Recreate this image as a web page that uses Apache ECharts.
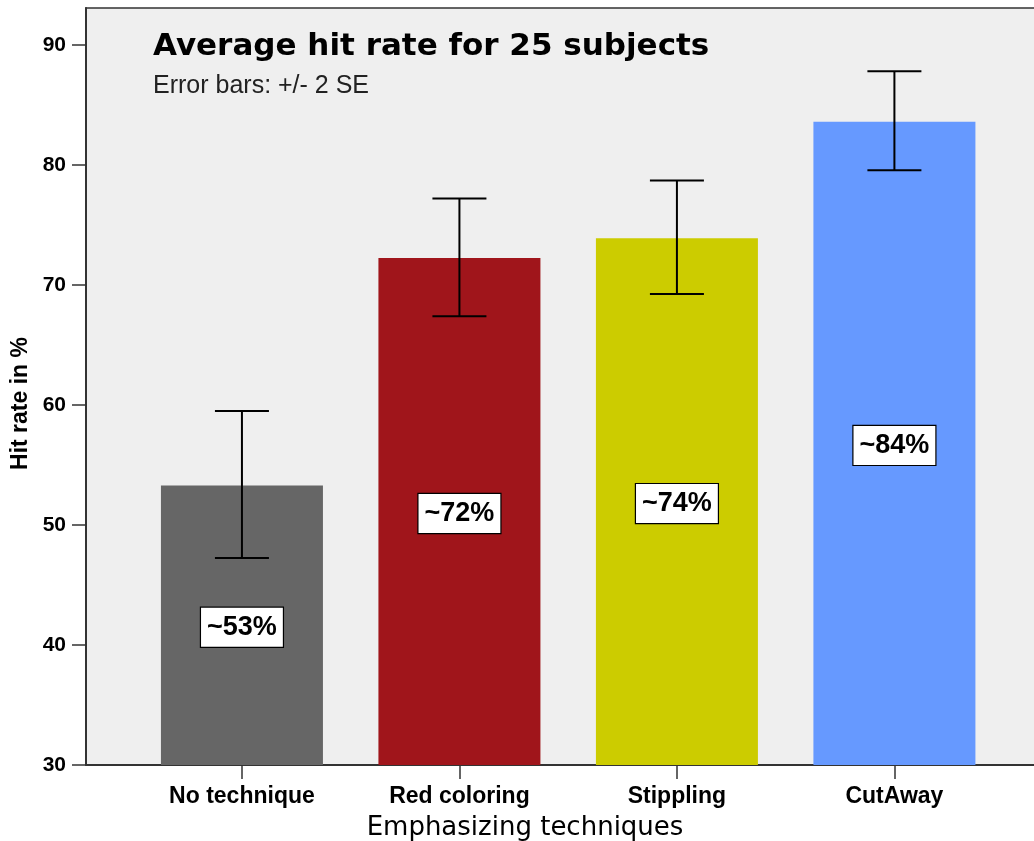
<!DOCTYPE html>
<html>
<head>
<meta charset="utf-8">
<script src="https://cdn.jsdelivr.net/npm/echarts@6/dist/echarts.min.js"></script>
<style>
html,body{margin:0;padding:0;background:#fff;}
#chart{width:1034px;height:841px;}
</style>
</head>
<body>
<div id="chart"></div>
<script>
const categories = ['No technique', 'Red coloring', 'Stippling', 'CutAway'];
const meanValues = [53.3, 72.25, 73.9, 83.6];
const errLow = [47.25, 67.4, 69.25, 79.55];
const errHigh = [59.5, 77.2, 78.7, 87.8];
const barLabels = ['~53%', '~72%', '~74%', '~84%'];
const barColors = ['#666666', '#a0151b', '#cccc00', '#6699ff'];
const yTicks = [30, 40, 50, 60, 70, 80, 90];

const chart = echarts.init(document.getElementById('chart'), null, {renderer: 'canvas'});

const barData = meanValues.map((v, i) => ({
  value: [i, v],
  itemStyle: {color: barColors[i]}
}));
const errData = categories.map((c, i) => [i, errLow[i], errHigh[i]]);

const option = {
  backgroundColor: '#ffffff',
  animation: false,
  title: [
    {
      text: 'Average hit rate for 25 subjects',
      left: 153, top: 31, padding: 0,
      textStyle: {fontFamily: 'DejaVu Sans', fontWeight: 'bold', fontSize: 31, color: '#000'}
    },
    {
      text: 'Error bars: +/- 2 SE',
      left: 153, top: 74, padding: 0,
      textStyle: {fontFamily: 'Liberation Sans', fontWeight: 'normal', fontSize: 25, color: '#222'}
    }
  ],
  grid: {
    left: 86, top: 8, bottom: 76, right: -17,
    outerBoundsMode: 'none',
    containLabel: false,
    show: true, backgroundColor: '#efefef', borderColor: '#333', borderWidth: 1.5
  },
  xAxis: {
    type: 'value',
    min: -0.717, max: 3.72,
    splitLine: {show: false},
    axisLine: {show: true, onZero: false, lineStyle: {color: '#333', width: 2}},
    axisTick: {show: true, customValues: [0, 1, 2, 3], length: 14, lineStyle: {color: '#333', width: 1.5}},
    axisLabel: {
      customValues: [0, 1, 2, 3],
      formatter: v => categories[Math.round(v)],
      margin: 20,
      fontFamily: 'Liberation Sans', fontWeight: 'bold', fontSize: 23, color: '#000'
    },
    name: 'Emphasizing techniques',
    nameLocation: 'middle',
    nameGap: 50,
    nameTextStyle: {fontFamily: 'DejaVu Sans', fontSize: 26, color: '#000', padding: [0, 87, 0, 0]}
  },
  yAxis: {
    type: 'value',
    min: 30, max: 93.08, interval: 10,
    splitLine: {show: false},
    axisLine: {show: true, onZero: false, lineStyle: {color: '#333', width: 2}},
    axisTick: {show: true, length: 14, lineStyle: {color: '#333', width: 1.5}},
    axisLabel: {
      margin: 20,
      showMaxLabel: false,
      fontFamily: 'Liberation Sans', fontWeight: 'bold', fontSize: 21, color: '#000'
    },
    name: 'Hit rate in %',
    nameLocation: 'middle',
    nameGap: 45,
    nameTextStyle: {fontFamily: 'Liberation Sans', fontWeight: 'bold', fontSize: 23, color: '#000', padding: [0, 34, 0, 0]}
  },
  series: [
    {
      type: 'bar',
      data: barData,
      barWidth: 162,
      label: {
        show: true,
        position: 'inside',
        offset: [0, 2],
        formatter: p => barLabels[p.dataIndex],
        fontFamily: 'Liberation Sans', fontWeight: 'bold', fontSize: 27, color: '#000',
        backgroundColor: '#ffffff', borderColor: '#000', borderWidth: 1.2,
        padding: [7, 6, 5, 6]
      }
    },
    {
      type: 'custom',
      data: errData,
      z: 10,
      renderItem: function (params, api) {
        const x = api.value(0);
        const lo = api.coord([x, api.value(1)]);
        const hi = api.coord([x, api.value(2)]);
        const half = 27;
        const style = {stroke: '#000', lineWidth: 2};
        return {
          type: 'group',
          children: [
            {type: 'line', shape: {x1: lo[0], y1: lo[1], x2: hi[0], y2: hi[1]}, style: style},
            {type: 'line', shape: {x1: hi[0] - half, y1: hi[1], x2: hi[0] + half, y2: hi[1]}, style: style},
            {type: 'line', shape: {x1: lo[0] - half, y1: lo[1], x2: lo[0] + half, y2: lo[1]}, style: style}
          ]
        };
      }
    }
  ]
};
chart.setOption(option);
</script>
</body>
</html>
